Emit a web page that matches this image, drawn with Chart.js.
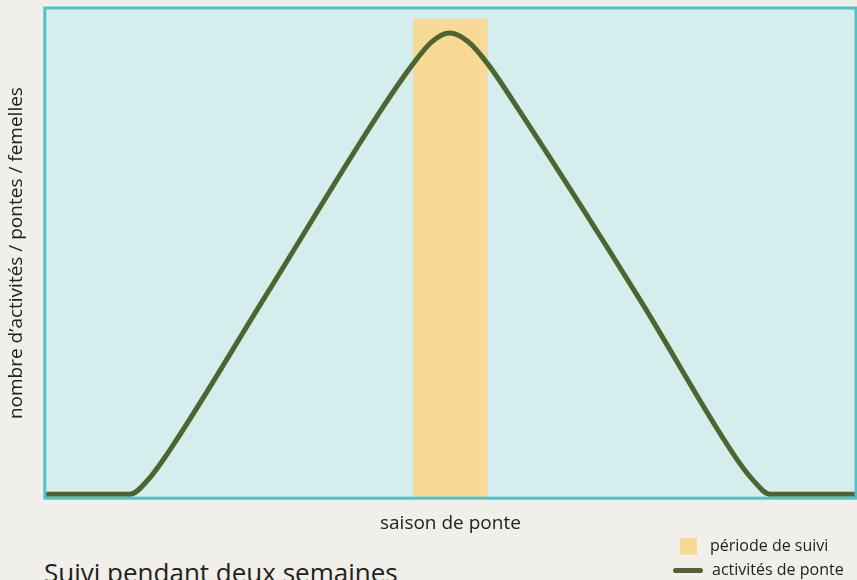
<!DOCTYPE html>
<html>
<head>
<meta charset="utf-8">
<script src="https://cdn.jsdelivr.net/npm/chart.js@4.4.1/dist/chart.umd.min.js"></script>
<style>
  body { margin: 0; background: #f0efe9; }
  #wrap { position: relative; width: 857px; height: 580px; overflow: hidden; background: #f0efe9; font-family: "Open Sans", "Noto Sans", sans-serif; color: #222; }
  #box { position: absolute; left: 0; top: 0; width: 857px; height: 540px; }
  #titre { position: absolute; left: 44px; top: 554px; font-size: 26px; white-space: nowrap; }
  .leg { position: absolute; left: 673px; font-size: 16px; white-space: nowrap; }
  .leg span { display: inline-block; vertical-align: middle; margin-right: 9px; }
</style>
</head>
<body>
<div id="wrap">
  <div id="box"><canvas id="graphe"></canvas></div>
  <div class="leg" id="leg1" style="top:534px"></div>
  <div class="leg" id="leg2" style="top:558px"></div>
  <div id="titre">Suivi pendant deux semaines</div>
</div>
<script>
// courbe des activités de ponte (valeurs relatives)
var saison_x = [0, 10.5, 12.7, 15.0, 26.9, 41.3, 45.4, 47.7, 49.9, 52.2, 54.6, 58.6, 73.4, 84.8, 87.2, 89.4, 100];
var activites_y = [0.8, 0.8, 3.7, 8.8, 40.4, 78.8, 88.6, 93.1, 94.9, 93.1, 88.6, 78.8, 40.4, 9.2, 3.9, 0.8, 0.8];
// période de suivi (deux semaines)
var suivi_x = [45.4, 54.6];
var suivi_y = [97.8, 97.8];

var titre_x = 'saison de ponte';
var titre_y = 'nombre d\u2019activités / pontes / femelles';
var legende = ['période de suivi', 'activités de ponte'];

var couleur_fond = '#d4eded';
var couleur_cadre = '#50c2c8';
var couleur_suivi = '#f8da96';
var couleur_ligne = '#4e652f';

var ctx = document.getElementById('graphe').getContext('2d');

var points_activites = [];
for (i = 0; i < saison_x.length; i++) {
    points_activites.push({ x: saison_x[i], y: activites_y[i] });
}
var points_suivi = [];
for (i = 0; i < suivi_x.length; i++) {
    points_suivi.push({ x: suivi_x[i], y: suivi_y[i] });
}

var fondCadre = {
    id: 'fondCadre',
    beforeDatasetsDraw: function (chart) {
        var a = chart.chartArea;
        var c = chart.ctx;
        c.save();
        c.fillStyle = couleur_fond;
        c.fillRect(a.left, a.top, a.right - a.left, a.bottom - a.top);
        c.restore();
    },
    afterDatasetsDraw: function (chart) {
        var a = chart.chartArea;
        var c = chart.ctx;
        c.save();
        c.strokeStyle = couleur_cadre;
        c.lineWidth = 3;
        c.strokeRect(a.left, a.top, a.right - a.left, a.bottom - a.top);
        c.restore();
    }
};

var police = '"Open Sans", "Noto Sans", sans-serif';

var chart_ponte = new Chart(ctx, {
    type: 'line',
    data: {
        datasets: [{
            label: legende[1],
            data: points_activites,
            borderColor: couleur_ligne,
            borderWidth: 5,
            pointRadius: 0,
            cubicInterpolationMode: 'monotone',
            fill: false,
            order: 0
        }, {
            label: legende[0],
            data: points_suivi,
            borderWidth: 0,
            borderColor: couleur_suivi,
            backgroundColor: couleur_suivi,
            pointRadius: 0,
            fill: 'origin',
            order: 1
        }]
    },
    options: {
        responsive: true,
        maintainAspectRatio: false,
        animation: false,
        layout: { padding: { left: 0, top: 8, right: 1, bottom: 5 } },
        plugins: { legend: { display: false }, tooltip: { enabled: false } },
        scales: {
            x: {
                type: 'linear', min: 0, max: 100,
                grid: { display: false, drawTicks: false }, border: { display: false },
                ticks: { display: false },
                title: { display: true, text: titre_x, color: '#222',
                    font: { family: police, size: 19 },
                    padding: { top: 14, bottom: 0 } }
            },
            y: {
                min: 0, max: 100,
                grid: { display: false, drawTicks: false }, border: { display: false },
                ticks: { display: false },
                title: { display: true, text: titre_y, color: '#222',
                    font: { family: police, size: 19 },
                    padding: { top: 5, bottom: 17 } }
            }
        }
    },
    plugins: [fondCadre]
});

// légende
document.getElementById('leg1').innerHTML =
    '<span style="width:17px;height:17px;background:' + couleur_suivi + ';margin-left:7px;margin-right:13px"></span>' + legende[0];
document.getElementById('leg2').innerHTML =
    '<span style="width:30px;height:5px;border-radius:3px;background:' + couleur_ligne + '"></span>' + legende[1];
</script>
</body>
</html>
